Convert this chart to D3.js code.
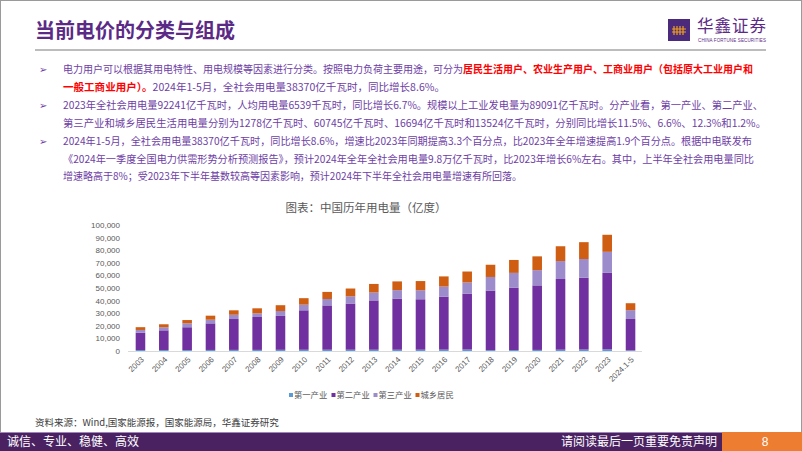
<!DOCTYPE html>
<html><head><meta charset="utf-8">
<script src="https://cdn.jsdelivr.net/npm/d3@7/dist/d3.min.js"></script>
<style>
html,body{margin:0;padding:0;background:#fff;}
svg{display:block;}
</style></head>
<body>
<svg id="c" width="802" height="451"></svg>
<script>
// ---- data ----
const years = ["2003","2004","2005","2006","2007","2008","2009","2010","2011","2012","2013","2014","2015","2016","2017","2018","2019","2020","2021","2022","2023","2024.1-5"];
const primary   = [800, 810, 760, 830, 880, 880, 940, 984, 1013, 1013, 1014, 994, 1020, 1075, 1155, 728, 780, 859, 1023, 1146, 1278, 516];
const secondary = [13700, 15600, 18100, 21100, 24500, 26100, 26900, 31318, 35185, 36669, 39143, 40650, 40046, 42108, 44413, 47235, 49362, 51215, 56131, 57001, 60745, 24900];
const tertiary  = [2200, 2400, 3100, 2900, 3400, 2900, 3900, 4497, 5082, 5690, 6273, 6660, 7158, 7961, 8814, 10801, 11863, 12087, 14231, 14859, 16694, 7000];
const resident  = [2200, 2400, 2600, 3200, 3500, 4000, 4600, 5125, 5620, 6219, 6793, 6928, 7276, 8054, 8695, 9685, 10250, 10949, 11743, 13366, 13524, 5500];
const seriesNames = ["第一产业","第二产业","第三产业","城乡居民"];
const yTicks = [0,10000,20000,30000,40000,50000,60000,70000,80000,90000,100000];

const colors = ["#5b9bd5","#7030a0","#9d8ccb","#cf5d12"];
const purple = "#5b2a86";
const textPurple = "#6e3ea5";

const svg = d3.select("#c");
const CJK = "'Noto Sans CJK SC','Microsoft YaHei',sans-serif";

// slide border
svg.append("rect").attr("x",0.5).attr("y",0.5).attr("width",801).attr("height",450)
  .attr("fill","none").attr("stroke","#9a9a9a").attr("stroke-width",1);

// header
svg.append("text").attr("x",35).attr("y",38).attr("font-family",CJK).attr("font-size",20)
  .attr("font-weight","bold").attr("fill",purple).text("当前电价的分类与组成");
svg.append("line").attr("x1",35).attr("x2",766).attr("y1",50).attr("y2",50)
  .attr("stroke","#a6a6a6").attr("stroke-width",1.5);

// logo
svg.append("rect").attr("x",668).attr("y",19).attr("width",22).attr("height",22).attr("fill","#4b2a7b");
const lg = svg.append("g").attr("stroke","#f0a020").attr("stroke-width",1.2).attr("fill","none");
lg.append("path").attr("d","M672,29H686M672,32H686");
[674,677,680,683].forEach(px=>lg.append("path").attr("d",`M${px},26V35`));
svg.append("text").attr("x",697).attr("y",32).attr("font-family",CJK).attr("font-size",16.5)
  .attr("fill",purple).attr("textLength",69).text("华鑫证券");
svg.append("text").attr("x",698).attr("y",42).attr("font-family","Liberation Sans").attr("font-size",4.5)
  .attr("fill",purple).attr("textLength",68).text("CHINA FORTUNE SECURITIES");

// bullets text
const lines = [
  {y:73, bullet:true, w:690, parts:[["电力用户可以根据其用电特性、用电规模等因素进行分类。按照电力负荷主要用途，可分为",false],["居民生活用户、农业生产用户、工商业用户（包括原大工业用户和",true]]},
  {y:91, bullet:false, w:382, parts:[["一般工商业用户）。",true],["2024年1-5月，全社会用电量38370亿千瓦时，同比增长8.6%。",false]]},
  {y:109, bullet:true, w:700, parts:[["2023年全社会用电量92241亿千瓦时，人均用电量6539千瓦时，同比增长6.7%。规模以上工业发电量为89091亿千瓦时。分产业看，第一产业、第二产业、",false]]},
  {y:127, bullet:false, w:703, parts:[["第三产业和城乡居民生活用电量分别为1278亿千瓦时、60745亿千瓦时、16694亿千瓦时和13524亿千瓦时，分别同比增长11.5%、6.6%、12.3%和1.2%。",false]]},
  {y:145, bullet:true, w:689, parts:[["2024年1-5月，全社会用电量38370亿千瓦时，同比增长8.6%，增速比2023年同期提高3.3个百分点，比2023年全年增速提高1.9个百分点。根据中电联发布",false]]},
  {y:163, bullet:false, w:691, parts:[["《2024年一季度全国电力供需形势分析预测报告》，预计2024年全年全社会用电量9.8万亿千瓦时，比2023年增长6%左右。其中，上半年全社会用电量同比",false]]},
  {y:180, bullet:false, w:459, parts:[["增速略高于8%；受2023年下半年基数较高等因素影响，预计2024年下半年全社会用电量增速有所回落。",false]]}
];
lines.forEach(l=>{
  if(l.bullet){
    svg.append("text").attr("x",39).attr("y",l.y).attr("font-family","DejaVu Sans").attr("font-size",10)
      .attr("fill",textPurple).text("\u27A2");
  }
  const t = svg.append("text").attr("x",63).attr("y",l.y).attr("font-family",CJK).attr("font-size",10.5)
    .attr("textLength",l.w).attr("lengthAdjust","spacingAndGlyphs");
  l.parts.forEach(p=>{
    t.append("tspan").attr("fill",p[1]?"#ff0000":textPurple).attr("font-weight",p[1]?"bold":"normal").text(p[0]);
  });
});

// chart title
svg.append("text").attr("x",366).attr("y",212).attr("text-anchor","middle").attr("font-family",CJK)
  .attr("font-size",11.5).attr("fill","#595959").text("图表：中国历年用电量（亿度）");

// scales
const x = d3.scaleBand().domain(years).range([128.8,642.2]).paddingInner(0.59).paddingOuter(0.295);
const y = d3.scaleLinear().domain([0,100000]).range([351,225]);

const data = years.map((yr,i)=>({year:yr, s0:primary[i], s1:secondary[i], s2:tertiary[i], s3:resident[i]}));
const stack = d3.stack().keys(["s0","s1","s2","s3"])(data);

const g = svg.append("g");
g.selectAll("g.s").data(stack).join("g").attr("fill",(d,i)=>colors[i])
  .selectAll("rect").data(d=>d).join("rect")
  .attr("x",d=>x(d.data.year)).attr("width",x.bandwidth())
  .attr("y",d=>y(d[1])).attr("height",d=>y(d[0])-y(d[1]));

// y axis labels
const yAxis = d3.axisLeft(y).tickValues(yTicks).tickSize(0).tickPadding(0).tickFormat(d3.format(","));
const ya = svg.append("g").attr("transform","translate(120,0)").call(yAxis);
ya.select(".domain").remove();
ya.selectAll("text").attr("font-family","Liberation Sans, Arial, sans-serif").attr("font-size",8).attr("fill","#595959");

// x axis
const xAxis = d3.axisBottom(x).tickSize(0).tickPadding(0);
const xa = svg.append("g").attr("transform","translate(0,351)").call(xAxis);
xa.select(".domain").attr("stroke","#d9d9d9").attr("d","M128,0.5H642");
xa.selectAll(".tick text").attr("font-family","Liberation Sans, Arial, sans-serif").attr("font-size",8)
  .attr("fill","#595959").attr("text-anchor","end")
  .attr("transform","translate(2,7) rotate(-45)").attr("dy","0.35em").attr("y",0);

// legend
const legX = [289,331.5,373.5,415.5];
seriesNames.forEach((n,i)=>{
  svg.append("rect").attr("x",legX[i]).attr("y",393).attr("width",4).attr("height",4).attr("fill",colors[i]);
  svg.append("text").attr("x",legX[i]+5).attr("y",398).attr("font-family",CJK).attr("font-size",8.3)
    .attr("fill","#595959").text(n);
});

// source
svg.append("text").attr("x",35).attr("y",426).attr("font-family",CJK).attr("font-size",9.5)
  .attr("fill","#404040").text("资料来源：Wind,国家能源报，国家能源局，华鑫证券研究");

// footer
svg.append("rect").attr("x",0).attr("y",432).attr("width",722).attr("height",19).attr("fill","#4a2262");
svg.append("line").attr("x1",0).attr("x2",722).attr("y1",432.5).attr("y2",432.5).attr("stroke","#9e86b8").attr("stroke-width",1);
svg.append("rect").attr("x",722).attr("y",432).attr("width",80).attr("height",19).attr("fill","#ed7d31");
svg.append("text").attr("x",7).attr("y",446).attr("font-family",CJK).attr("font-size",12)
  .attr("fill","#fff").text("诚信、专业、稳健、高效");
svg.append("text").attr("x",717).attr("y",446).attr("text-anchor","end").attr("font-family",CJK).attr("font-size",12)
  .attr("fill","#fff").text("请阅读最后一页重要免责声明");
svg.append("text").attr("x",765).attr("y",446).attr("text-anchor","middle").attr("font-family","Liberation Sans")
  .attr("font-size",12).attr("fill","#fff").text("8");
</script>
</body></html>
